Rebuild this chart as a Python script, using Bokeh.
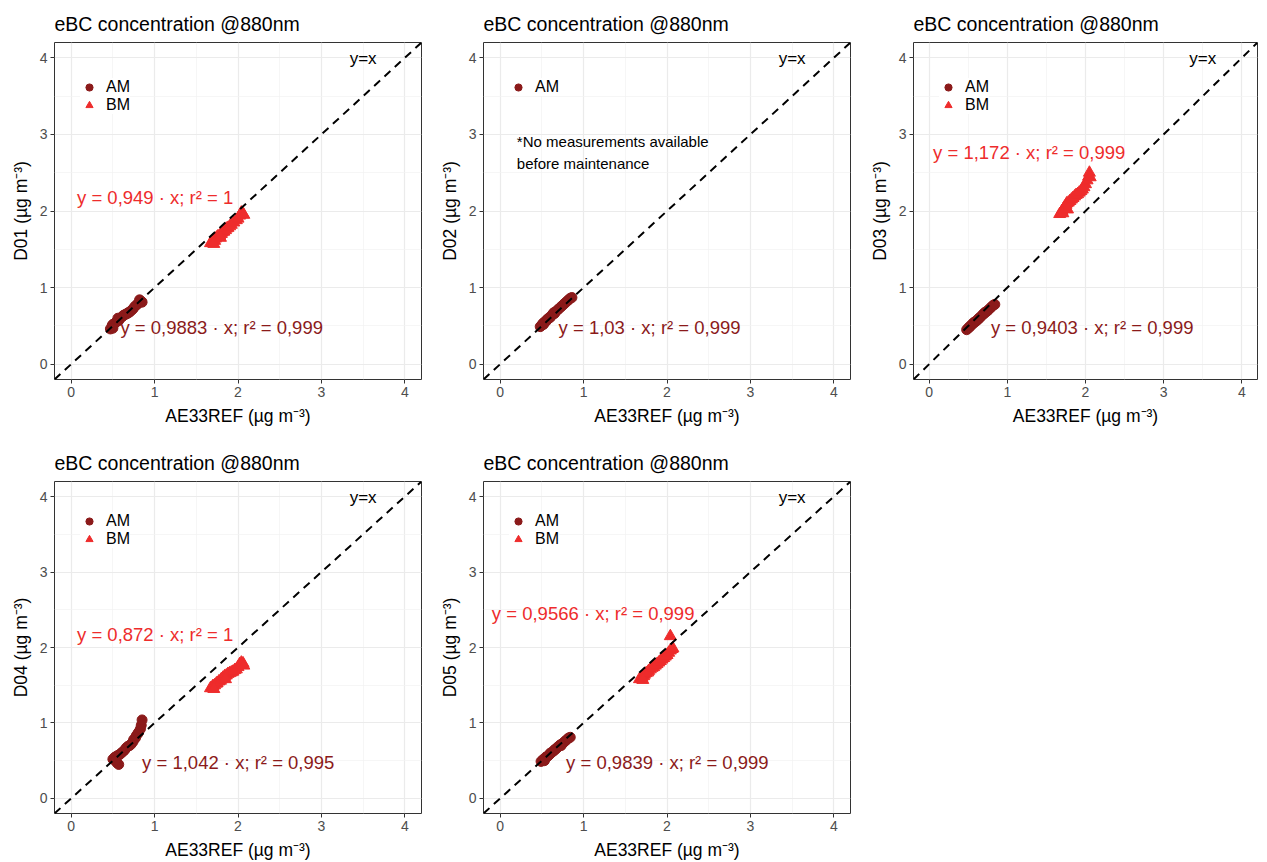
from bokeh.plotting import figure
from bokeh.layouts import column, row
from bokeh.models import FixedTicker, Legend, LegendItem
from bokeh.core.properties import value
from bokeh.embed import file_html
from bokeh.resources import INLINE

FONT = "Liberation Sans"
AM_COLOR = "#8B1A1A"
BM_COLOR = "#EE2C2C"

names = ["D01", "D02", "D03", "D04", "D05"]

am_x = {
    "D01": [0.47,0.49,0.50,0.52,0.54,0.55,0.57,0.58,0.60,0.62,0.63,0.65,0.67,0.68,0.70,0.72,0.74,0.76,0.78,0.80,0.82,0.84,0.85,0.50,0.56],
    "D02": [0.48,0.50,0.51,0.53,0.55,0.56,0.58,0.60,0.61,0.63,0.65,0.66,0.68,0.70,0.72,0.74,0.76,0.78,0.80,0.82,0.84,0.86,0.52,0.57,0.64],
    "D03": [0.48,0.50,0.52,0.53,0.55,0.57,0.58,0.60,0.62,0.64,0.65,0.67,0.69,0.70,0.72,0.74,0.76,0.78,0.80,0.82,0.84,0.51,0.56,0.63,0.71],
    "D04": [0.50,0.52,0.53,0.55,0.56,0.58,0.60,0.62,0.64,0.66,0.68,0.70,0.72,0.74,0.75,0.77,0.78,0.80,0.81,0.83,0.84,0.85,0.55,0.57,0.53],
    "D05": [0.49,0.51,0.52,0.54,0.55,0.57,0.59,0.60,0.62,0.64,0.65,0.67,0.69,0.70,0.72,0.74,0.76,0.78,0.80,0.82,0.84,0.53,0.58,0.66,0.73],
}
am_y = {
    "D01": [0.46,0.50,0.52,0.53,0.55,0.56,0.57,0.59,0.61,0.63,0.64,0.65,0.66,0.67,0.68,0.70,0.72,0.75,0.77,0.79,0.84,0.82,0.81,0.47,0.60],
    "D02": [0.49,0.51,0.53,0.55,0.56,0.58,0.60,0.61,0.63,0.65,0.66,0.68,0.70,0.72,0.74,0.76,0.78,0.80,0.82,0.84,0.86,0.87,0.52,0.59,0.67],
    "D03": [0.45,0.47,0.49,0.50,0.52,0.54,0.55,0.56,0.58,0.60,0.61,0.63,0.65,0.66,0.68,0.69,0.71,0.73,0.75,0.77,0.78,0.48,0.53,0.59,0.67],
    "D04": [0.52,0.54,0.55,0.56,0.57,0.58,0.60,0.62,0.64,0.67,0.69,0.70,0.72,0.75,0.78,0.80,0.83,0.86,0.88,0.92,0.97,1.04,0.47,0.45,0.50],
    "D05": [0.49,0.51,0.52,0.53,0.55,0.56,0.58,0.60,0.61,0.63,0.64,0.66,0.68,0.69,0.71,0.72,0.74,0.76,0.78,0.80,0.81,0.50,0.57,0.65,0.70],
}
bm_x = {
    "D01": [1.67,1.69,1.70,1.72,1.73,1.75,1.76,1.78,1.80,1.81,1.83,1.85,1.86,1.88,1.90,1.92,1.95,1.98,2.00,2.02,2.04,2.06,2.07,1.71,1.79],
    "D02": [],
    "D03": [1.67,1.69,1.70,1.72,1.73,1.75,1.76,1.78,1.80,1.82,1.84,1.86,1.88,1.90,1.92,1.94,1.96,1.98,2.00,2.02,2.04,2.05,2.06,1.71,1.77],
    "D04": [1.67,1.69,1.70,1.72,1.74,1.75,1.77,1.79,1.80,1.82,1.84,1.86,1.88,1.90,1.92,1.94,1.96,1.98,2.00,2.02,2.04,2.06,2.07,1.71,1.85],
    "D05": [1.67,1.69,1.70,1.72,1.73,1.75,1.77,1.78,1.80,1.82,1.84,1.86,1.88,1.90,1.92,1.94,1.96,1.98,2.00,2.02,2.04,2.06,2.07,1.71,2.04],
}
bm_y = {
    "D01": [1.58,1.60,1.62,1.61,1.64,1.66,1.67,1.68,1.70,1.72,1.73,1.75,1.77,1.78,1.80,1.82,1.85,1.88,1.90,1.94,1.98,1.96,1.95,1.57,1.65],
    "D02": [],
    "D03": [1.96,1.98,2.00,2.03,2.05,2.08,2.10,2.11,2.13,2.15,2.17,2.19,2.21,2.22,2.24,2.26,2.28,2.31,2.35,2.40,2.45,2.50,2.44,1.97,2.02],
    "D04": [1.46,1.47,1.49,1.50,1.52,1.53,1.55,1.56,1.58,1.60,1.62,1.63,1.65,1.66,1.67,1.68,1.70,1.71,1.74,1.78,1.80,1.79,1.76,1.45,1.58],
    "D05": [1.58,1.59,1.60,1.62,1.64,1.66,1.67,1.69,1.71,1.73,1.74,1.76,1.78,1.80,1.82,1.84,1.86,1.88,1.90,1.93,1.96,1.98,1.99,1.57,2.15],
}

am_eq = {
    "D01": "y = 0,9883 \u00b7 x;  r\u00b2 = 0,999",
    "D02": "y = 1,03 \u00b7 x;  r\u00b2 = 0,999",
    "D03": "y = 0,9403 \u00b7 x;  r\u00b2 = 0,999",
    "D04": "y = 1,042 \u00b7 x;  r\u00b2 = 0,995",
    "D05": "y = 0,9839 \u00b7 x;  r\u00b2 = 0,999",
}
am_eq_pos = {"D01": (0.59, 0.48), "D02": (0.70, 0.48), "D03": (0.79, 0.48), "D04": (0.85, 0.47), "D05": (0.79, 0.47)}
bm_eq = {
    "D01": "y = 0,949 \u00b7 x;  r\u00b2 = 1",
    "D03": "y = 1,172 \u00b7 x;  r\u00b2 = 0,999",
    "D04": "y = 0,872 \u00b7 x;  r\u00b2 = 1",
    "D05": "y = 0,9566 \u00b7 x;  r\u00b2 = 0,999",
}
bm_eq_pos = {"D01": (0.07, 2.17), "D03": (0.05, 2.77), "D04": (0.07, 2.17), "D05": (-0.10, 2.45)}

note_lines = ["*No measurements available", "before maintenance"]
note_y = [2.91, 2.62]

ticks = [0, 1, 2, 3, 4]
minor = [-0.5, 0.5, 1.5, 2.5, 3.5]
identity = [-0.2, 4.2]

# layout per panel: (width, height, border_left, border_right, border_top, border_bottom)
layout = {
    "D01": (433, 441, 54, 12, 42, 62),
    "D02": (430, 441, 50, 13, 42, 62),
    "D03": (396, 441, 50, 2, 42, 62),
    "D04": (433, 421, 54, 12, 36, 48),
    "D05": (430, 421, 50, 13, 36, 48),
}


def make(name):
    w, h, bl, br, bt, bb = layout[name]
    p = figure(width=w, height=h, x_range=(-0.2, 4.2), y_range=(-0.2, 4.2),
               output_backend="svg", toolbar_location=None,
               title="eBC concentration @880nm",
               min_border_left=bl, min_border_right=br, min_border_top=bt, min_border_bottom=bb)
    p.title.text_font = FONT
    p.title.text_font_size = "19.5px"
    p.title.text_font_style = "normal"
    p.title.text_color = "black"
    p.title.standoff = 16
    p.outline_line_color = "#333333"
    p.outline_line_width = 1
    for ax in (p.xaxis[0], p.yaxis[0]):
        ax.ticker = FixedTicker(ticks=ticks, minor_ticks=minor)
        ax.axis_line_color = None
        ax.major_tick_in = 0
        ax.major_tick_out = 4
        ax.major_tick_line_color = "#333333"
        ax.minor_tick_line_color = None
        ax.major_label_text_font = FONT
        ax.major_label_text_font_size = "14px"
        ax.major_label_text_color = "#4D4D4D"
        ax.axis_label_text_font = FONT
        ax.axis_label_text_font_size = "17.5px"
        ax.axis_label_text_font_style = "normal"
        ax.axis_label_text_color = "black"
        ax.major_label_standoff = 3
        ax.axis_label_standoff = 6
    p.xaxis.axis_label = "AE33REF (\u00b5g m\u207b\u00b3)"
    p.yaxis.axis_label = name + " (\u00b5g m\u207b\u00b3)"
    for g in (p.xgrid[0], p.ygrid[0]):
        g.grid_line_color = "#EBEBEB"
        g.grid_line_width = 1.2
        g.minor_grid_line_color = "#F2F2F2"
        g.minor_grid_line_width = 0.7

    items = []
    r_am = p.scatter(am_x[name], am_y[name], marker="circle", size=10,
                     fill_color=AM_COLOR, line_color=AM_COLOR)
    items.append(LegendItem(label="AM", renderers=[r_am]))
    if bm_x[name]:
        r_bm = p.scatter(bm_x[name], bm_y[name], marker="triangle", size=12,
                         fill_color=BM_COLOR, line_color=BM_COLOR)
        items.append(LegendItem(label="BM", renderers=[r_bm]))

    p.line(identity, identity, line_color="black", line_width=2, line_dash="8 6")

    p.text([3.5], [3.99], text=["y=x"], text_font=value(FONT), text_font_size="17px",
           text_color="black", text_align="center", text_baseline="middle")

    ax_, ay_ = am_eq_pos[name]
    p.text([ax_], [ay_], text=[am_eq[name]], text_font=value(FONT), text_font_size="18.5px",
           text_color=AM_COLOR, text_align="left", text_baseline="middle")
    if name in bm_eq:
        bx_, by_ = bm_eq_pos[name]
        p.text([bx_], [by_], text=[bm_eq[name]], text_font=value(FONT), text_font_size="18.5px",
               text_color=BM_COLOR, text_align="left", text_baseline="middle")
    if name == "D02":
        p.text([0.2, 0.2], note_y, text=note_lines, text_font=value(FONT), text_font_size="15px",
               text_color="black", text_align="left", text_baseline="middle")

    frame_h = h - bt - bb
    nitems = len(items)
    leg = Legend(items=items, location=(26, frame_h - 26 - (nitems * 18 + 10)),
                 label_text_font=FONT, label_text_font_size="16px", label_text_color="black",
                 glyph_height=18, glyph_width=18, label_height=18, label_standoff=8,
                 spacing=0, padding=5, border_line_color=None,
                 background_fill_color="white", background_fill_alpha=1.0)
    p.add_layout(leg, "center")
    return p


figs = {n: make(n) for n in names}
layout_all = column(row(figs["D01"], figs["D02"], figs["D03"]),
                    row(figs["D04"], figs["D05"]))

open("out.html", "w").write(file_html(layout_all, INLINE))
